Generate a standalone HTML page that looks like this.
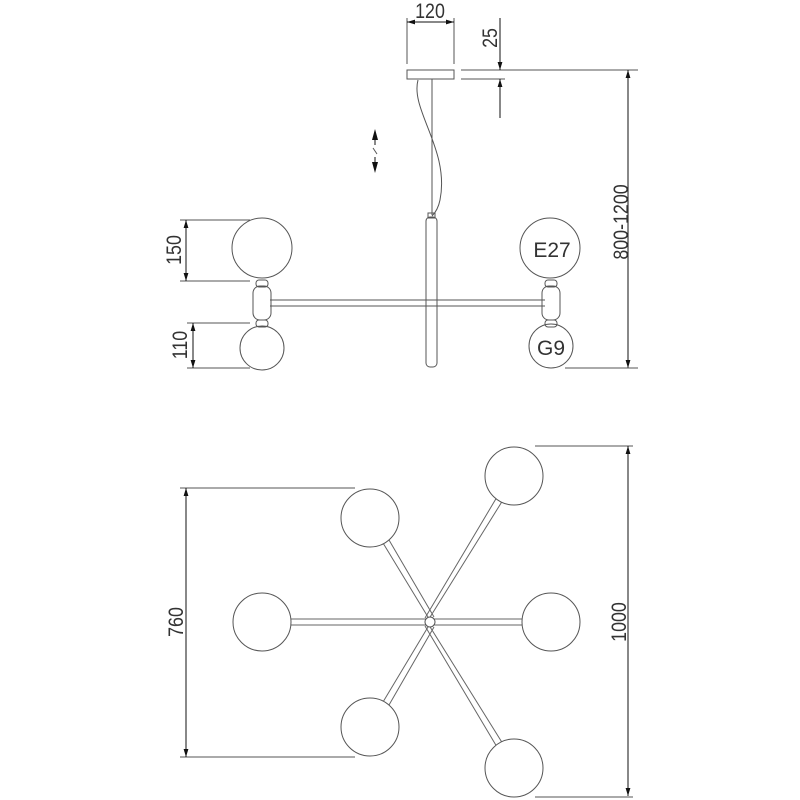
<!DOCTYPE html>
<html><head><style>body{margin:0;background:#fff}svg{display:block}</style></head><body>
<svg width="800" height="800" viewBox="0 0 800 800" xmlns="http://www.w3.org/2000/svg" font-family="Liberation Sans, sans-serif">
<defs><marker id="a" viewBox="0 0 10 10" refX="10" refY="5" markerWidth="8" markerHeight="8" orient="auto-start-reverse"><path d="M0,2 L10,5 L0,8z" fill="#111"/></marker></defs>
<g stroke="#555" stroke-width="1" fill="none">
<line x1="407" y1="18" x2="407" y2="64"/><line x1="454" y1="18" x2="454" y2="64"/>
<line x1="407" y1="22" x2="454" y2="22" marker-start="url(#a)" marker-end="url(#a)" stroke="#111"/>
<line x1="461" y1="70" x2="638" y2="70"/><line x1="461" y1="79" x2="505" y2="79"/>
<line x1="500" y1="18" x2="500" y2="70" marker-end="url(#a)" stroke="#111"/>
<line x1="500" y1="118" x2="500" y2="79" marker-end="url(#a)" stroke="#111"/>
<line x1="628" y1="70" x2="628" y2="368" marker-start="url(#a)" marker-end="url(#a)" stroke="#111"/>
<line x1="565" y1="368" x2="638" y2="368"/>
<path d="M372,140 L375,129 L378,140z M372,162 L375,173 L378,162z" fill="#111" stroke="none"/>
<line x1="375" y1="140" x2="375" y2="145" stroke="#111"/><line x1="375" y1="157" x2="375" y2="162" stroke="#111"/>
<line x1="373" y1="148" x2="377" y2="154"/>
<rect x="407" y="70" width="47" height="9"/>
<line x1="432" y1="79" x2="432" y2="215"/>
<path d="M418,80 C410,110 450,150 440,200 C438,210 434,214 432,216"/>
<rect x="426" y="217" width="11" height="150" rx="4"/>
<rect x="428" y="213" width="7" height="5"/>
<line x1="270" y1="300" x2="545" y2="300"/><line x1="270" y1="306" x2="545" y2="306"/>
<circle cx="262" cy="248" r="30"/><circle cx="262" cy="348" r="22"/>
<rect x="253" y="286" width="18" height="34" rx="7"/>
<rect x="256" y="280" width="12" height="7" rx="3"/><rect x="256" y="320" width="12" height="7" rx="3"/>
<circle cx="550" cy="248" r="30"/><circle cx="551" cy="346" r="22"/>
<rect x="542" y="286" width="18" height="34" rx="7"/>
<rect x="545" y="280" width="12" height="7" rx="3"/><rect x="545" y="320" width="12" height="7" rx="3"/>
<line x1="180" y1="220" x2="250" y2="220"/><line x1="180" y1="281" x2="250" y2="281"/>
<line x1="186" y1="220" x2="186" y2="281" marker-start="url(#a)" marker-end="url(#a)" stroke="#111"/>
<line x1="187" y1="323" x2="250" y2="323"/><line x1="187" y1="368" x2="250" y2="368"/>
<line x1="193" y1="323" x2="193" y2="368" marker-start="url(#a)" marker-end="url(#a)" stroke="#111"/>
<g stroke="#666">
<line x1="291" y1="619" x2="522" y2="619"/><line x1="291" y1="625" x2="522" y2="625"/>
<path d="M383,543 L431,622 M389,540 L434,617"/>
<path d="M503,500 L427,622 M497,497 L425,618"/>
<path d="M383,702 L431,622 M389,705 L434,627"/>
<path d="M503,744 L427,622 M497,747 L425,626"/>
</g>
<g fill="#fff">
<circle cx="262" cy="622" r="29"/><circle cx="551" cy="622" r="29"/>
<circle cx="370" cy="518" r="29"/><circle cx="370" cy="727" r="29"/>
<circle cx="514" cy="476" r="29"/><circle cx="514" cy="768" r="29"/>
<circle cx="430" cy="622" r="5"/>
</g>
<line x1="180" y1="488" x2="355" y2="488"/><line x1="180" y1="757" x2="355" y2="757"/>
<line x1="186" y1="488" x2="186" y2="757" marker-start="url(#a)" marker-end="url(#a)" stroke="#111"/>
<line x1="535" y1="446" x2="633" y2="446"/><line x1="535" y1="797" x2="633" y2="797"/>
<line x1="628" y1="446" x2="628" y2="796" marker-start="url(#a)" marker-end="url(#a)" stroke="#111"/>
</g>
<g fill="#333" font-size="21">
<text x="430" y="18" text-anchor="middle" transform="translate(430,0) scale(0.85,1) translate(-430,0)">120</text>
<text transform="translate(497,38) rotate(-90) scale(0.85,1)" text-anchor="middle">25</text>
<text transform="translate(628,222) rotate(-90) scale(0.85,1)" text-anchor="middle">800-1200</text>
<text transform="translate(181,250) rotate(-90) scale(0.85,1)" text-anchor="middle">150</text>
<text transform="translate(187,345) rotate(-90) scale(0.85,1)" text-anchor="middle">110</text>
<text transform="translate(183,622) rotate(-90) scale(0.85,1)" text-anchor="middle">760</text>
<text transform="translate(626,622) rotate(-90) scale(0.85,1)" text-anchor="middle">1000</text>
<text x="552" y="257" text-anchor="middle" font-size="21">E27</text>
<text x="551" y="355" text-anchor="middle" font-size="21">G9</text>
</g>
</svg>
</body></html>
